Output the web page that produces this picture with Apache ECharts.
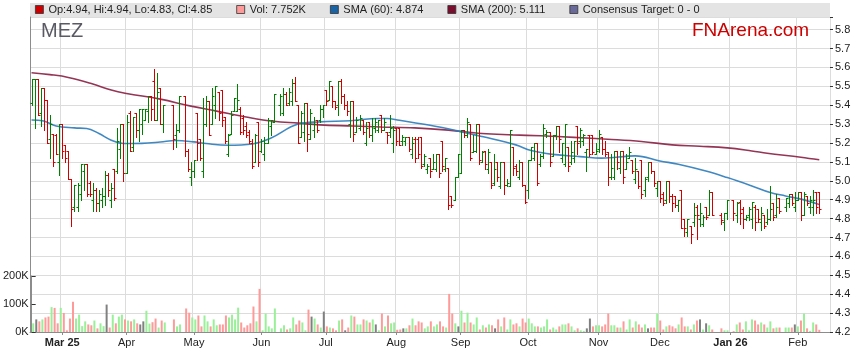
<!DOCTYPE html>
<html><head><meta charset="utf-8">
<script src="https://cdn.jsdelivr.net/npm/echarts@6/dist/echarts.min.js"></script>
<style>html,body{margin:0;padding:0;background:#fff}#c{width:859px;height:363px}</style>
</head><body><div id="c"></div>
<script>
// ---- axis categories: every weekday from 17 Feb 2025 (holidays stay as empty slots) ----
const firstDay = [2025, 1, 17];
const weekdayCount = 261;
const monthNames = ['Jan','Feb','Mar','Apr','May','Jun','Jul','Aug','Sep','Oct','Nov','Dec'];

// ---- daily OHLC, indexed by weekday slot (null = ASX holiday) ----
const opens = [5.41,5.54,5.54,5.36,5.49,5.43,5.22,5.25,5.24,5.10,
 5.30,5.19,5.16,5.01,4.86,4.86,4.93,5.05,5.09,4.99,
 4.90,4.95,4.88,4.90,4.92,5.03,4.90,5.06,5.05,5.17,
 5.30,5.04,5.36,5.18,5.36,5.27,5.30,5.32,5.37,5.45,
 5.53,5.32,5.49,5.30,null,null,5.40,5.24,5.27,null,
 5.45,5.16,5.02,5.05,5.36,5.22,5.05,5.30,5.42,5.30,
 5.40,5.47,5.48,5.34,5.14,5.25,5.37,5.37,5.38,5.33,
 5.29,5.26,5.20,5.10,5.31,5.16,5.14,5.20,5.29,5.31,
 null,5.40,5.36,5.46,5.41,5.42,5.52,5.40,5.23,5.26,
 5.41,5.22,5.27,5.32,5.32,5.38,5.48,5.43,5.50,5.42,
 5.40,5.53,5.45,5.40,5.30,5.42,5.26,5.28,5.32,5.20,
 5.31,5.24,5.28,5.27,5.35,5.27,5.26,5.26,5.20,5.28,
 5.28,5.21,5.21,5.23,5.14,5.22,5.22,5.23,5.09,5.06,
 5.12,5.06,5.06,5.14,5.21,5.06,5.07,4.92,4.90,5.02,
 5.04,5.27,5.24,5.30,5.15,5.16,5.30,5.10,5.16,5.06,
 5.10,4.99,5.10,4.97,5.10,4.98,4.97,5.18,5.08,5.02,
 5.10,4.98,4.95,5.11,5.12,5.20,5.09,5.13,5.25,5.26,
 5.13,5.24,5.29,5.12,5.09,5.18,5.10,5.12,5.29,5.21,
 5.21,5.15,5.24,5.24,5.14,5.17,5.23,5.17,5.15,5.02,
 5.02,5.16,5.07,5.16,5.06,5.12,5.11,5.01,5.05,5.11,
 4.95,5.02,5.10,5.05,4.96,5.00,4.93,4.90,5.00,4.92,
 4.92,4.87,4.95,4.80,4.73,4.76,4.78,4.86,4.80,4.77,
 4.86,4.82,4.94,null,null,4.82,4.78,4.83,null,4.90,
 4.82,4.89,4.85,4.80,4.82,4.80,4.86,4.85,4.78,4.82,
 4.78,4.80,4.88,4.82,4.91,null,4.86,4.88,4.93,4.86,
 4.90,4.94,4.82,4.92,4.86,4.86,4.94,4.94];
const highs = [5.54,5.54,5.54,5.49,5.49,5.43,5.35,5.25,5.25,5.30,
 5.30,5.19,5.16,5.01,4.98,4.99,5.09,5.09,5.09,5.00,
 4.99,4.96,4.95,4.96,5.05,5.04,4.99,5.06,5.28,5.30,
 5.30,5.35,5.37,5.34,5.36,5.38,5.38,5.38,5.45,5.45,
 5.59,5.57,5.49,5.40,null,null,5.40,5.30,5.45,null,
 5.45,5.17,5.10,5.11,5.36,5.22,5.44,5.45,5.42,5.49,
 5.50,5.47,5.48,5.34,5.25,5.37,5.44,5.51,5.39,5.35,
 5.31,5.27,5.22,5.25,5.31,5.22,5.23,5.33,5.32,5.46,
 null,5.46,5.49,5.47,5.49,5.54,5.55,5.40,5.37,5.41,
 5.41,5.38,5.34,5.32,5.40,5.40,5.48,5.53,5.50,5.42,
 5.53,5.54,5.46,5.42,5.42,5.42,5.34,5.35,5.32,5.31,
 5.31,5.33,5.33,5.32,5.35,5.33,5.26,5.35,5.29,5.28,
 5.28,5.24,5.23,5.23,5.23,5.23,5.23,5.23,5.14,5.09,
 5.12,5.14,5.14,5.14,5.21,5.12,5.07,4.92,5.02,5.14,
 5.27,5.27,5.33,5.30,5.24,5.30,5.30,5.16,5.16,5.17,
 5.10,5.14,5.10,5.10,5.10,5.01,5.27,5.18,5.09,5.11,
 5.10,4.98,5.11,5.18,5.20,5.20,5.14,5.30,5.27,5.26,
 5.24,5.29,5.29,5.20,5.30,5.18,5.21,5.21,5.29,5.28,
 5.25,5.17,5.24,5.24,5.20,5.27,5.23,5.21,5.15,5.14,
 5.16,5.16,5.16,5.16,5.14,5.18,5.11,5.12,5.05,5.11,
 5.02,5.10,5.10,5.05,5.00,5.00,4.94,5.00,5.00,4.93,
 4.92,4.90,4.95,4.80,4.80,4.76,4.88,4.87,4.88,4.82,
 4.86,4.95,4.94,null,null,4.83,4.83,4.90,null,4.90,
 4.89,4.90,4.86,4.82,4.86,4.89,4.87,4.85,4.86,4.82,
 4.85,4.97,4.88,4.93,4.91,null,4.91,4.93,4.93,4.94,
 4.94,4.94,4.94,4.92,4.92,4.95,4.94,4.94];
const lows = [5.40,5.28,5.35,5.29,5.27,5.20,5.12,5.08,5.14,5.03,
 5.12,5.10,5.01,4.76,4.84,4.84,4.90,4.95,4.92,4.92,
 4.84,4.84,4.84,4.86,4.87,4.92,4.86,4.90,5.04,5.12,
 5.00,5.04,5.16,5.16,5.23,5.21,5.25,5.32,5.31,5.32,
 5.32,5.32,5.30,5.26,null,null,5.17,5.18,5.26,null,
 5.13,5.05,4.98,5.02,5.11,5.11,5.02,5.29,5.24,5.30,
 5.33,5.32,5.29,5.20,5.13,5.25,5.37,5.37,5.25,5.25,
 5.23,5.20,5.07,5.10,5.08,5.15,5.11,5.20,5.24,5.31,
 null,5.35,5.35,5.40,5.40,5.40,5.42,5.20,5.23,5.21,
 5.16,5.22,5.23,5.26,5.31,5.34,5.40,5.43,5.39,5.38,
 5.35,5.41,5.38,5.35,5.23,5.21,5.26,5.27,5.25,5.19,
 5.23,5.21,5.26,5.26,5.26,5.27,5.20,5.23,5.15,5.19,
 5.19,5.19,5.19,5.16,5.12,5.10,5.12,5.07,5.08,5.04,
 5.02,5.06,5.05,5.02,5.05,5.05,4.85,4.86,4.90,5.02,
 5.04,5.23,5.23,5.11,5.15,5.15,5.09,5.10,5.06,5.04,
 4.96,4.98,5.00,4.96,4.93,4.97,4.97,5.03,5.03,5.01,
 4.97,4.88,4.91,5.11,5.11,4.98,5.08,5.12,5.23,5.08,
 5.13,5.22,5.15,5.10,5.08,5.05,5.09,5.10,5.14,5.18,
 5.19,5.05,5.13,5.14,5.14,5.15,5.14,5.13,4.98,5.01,
 5.01,5.06,5.04,4.99,5.06,5.12,5.04,4.99,4.96,4.91,
 4.92,5.00,5.04,4.97,4.92,4.89,4.87,4.88,4.89,4.84,
 4.86,4.84,4.75,4.71,4.71,4.67,4.76,4.69,4.76,4.76,
 4.80,4.82,4.82,null,null,4.77,4.74,4.80,null,4.79,
 4.78,4.77,4.75,4.79,4.79,4.75,4.74,4.78,4.74,4.75,
 4.77,4.79,4.79,4.81,4.83,null,4.84,4.86,4.87,4.84,
 4.90,4.79,4.82,4.87,4.83,4.82,4.83,4.83];
const closes = [5.54,5.54,5.35,5.49,5.43,5.20,5.30,5.10,5.14,5.30,
 5.16,5.12,5.01,4.85,4.98,4.98,5.09,5.09,4.93,4.93,
 4.95,4.88,4.93,4.92,5.03,4.95,4.96,4.91,5.21,5.30,
 5.04,5.31,5.16,5.34,5.27,5.38,5.38,5.38,5.45,5.38,
 5.32,5.47,5.30,5.40,null,null,5.22,5.27,5.45,null,
 5.16,5.06,5.05,5.11,5.20,5.12,5.30,5.42,5.24,5.45,
 5.50,5.36,5.32,5.21,5.24,5.35,5.44,5.43,5.26,5.27,
 5.24,5.21,5.08,5.24,5.10,5.21,5.20,5.32,5.32,5.46,
 null,5.45,5.46,5.40,5.47,5.52,5.42,5.20,5.36,5.41,
 5.25,5.36,5.30,5.27,5.38,5.40,5.42,5.53,5.42,5.39,
 5.53,5.45,5.40,5.37,5.42,5.25,5.32,5.33,5.26,5.28,
 5.24,5.29,5.31,5.32,5.27,5.31,5.24,5.28,5.27,5.21,
 5.19,5.23,5.23,5.17,5.20,5.12,5.14,5.08,5.13,5.08,
 5.05,5.10,5.14,5.04,5.08,5.12,4.87,4.87,5.02,5.14,
 5.27,5.24,5.31,5.12,5.16,5.30,5.11,5.15,5.09,5.15,
 4.98,5.06,5.02,5.10,4.98,4.99,5.27,5.07,5.05,5.10,
 4.98,4.89,5.11,5.18,5.20,4.99,5.13,5.28,5.26,5.10,
 5.24,5.29,5.22,5.20,5.30,5.08,5.15,5.21,5.20,5.27,
 5.24,5.17,5.14,5.15,5.16,5.25,5.17,5.14,5.02,5.07,
 5.16,5.10,5.16,5.02,5.10,5.15,5.05,5.06,4.97,4.93,
 5.01,5.10,5.05,4.99,5.00,4.91,4.88,5.00,4.92,4.88,
 4.87,4.90,4.75,4.75,4.80,4.72,4.82,4.82,4.83,4.81,
 4.81,4.94,4.82,null,null,4.79,4.83,4.90,null,4.83,
 4.88,4.83,4.80,4.81,4.85,4.89,4.78,4.80,4.83,4.76,
 4.80,4.85,4.81,4.86,4.84,null,4.91,4.93,4.88,4.90,
 4.94,4.82,4.93,4.88,4.90,4.90,4.86,4.85];
// volume in thousands of shares
const volumesK = [31,45,38,45,52,55,89,86,31,86,
 68,6,48,108,48,62,21,38,27,24,
 41,13,31,21,98,16,62,31,55,62,
 45,41,38,45,31,27,38,76,30,35,
 48,16,41,34,null,null,45,20,27,null,
 84,69,52,45,59,20,59,38,20,45,
 24,27,27,59,52,62,45,87,34,16,
 24,31,91,38,154,6,66,20,13,84,
 null,13,24,9,13,52,27,41,34,6,
 80,55,48,27,16,73,20,16,13,6,
 41,45,6,16,59,55,27,27,45,41,
 34,45,27,6,66,20,59,31,34,8,
 9,13,13,24,48,24,38,34,13,20,
 38,20,27,38,20,16,136,66,31,20,
 76,34,69,34,27,52,9,24,16,27,
 24,13,45,20,52,9,45,27,31,20,
 48,34,48,31,20,20,16,20,45,9,
 16,9,20,27,27,31,20,6,13,6,
 4,13,48,20,24,24,20,27,66,24,
 24,16,16,38,9,45,16,38,27,16,
 27,13,16,16,66,41,9,20,24,20,
 13,27,52,20,20,9,27,41,45,9,
 31,24,9,null,null,13,6,6,null,3,
 27,34,9,38,6,45,41,27,34,27,
 16,38,13,16,16,null,16,16,16,27,
 20,41,66,13,4,34,27,7.752];
// slots whose volume bar is drawn grey (unchanged day)
const flatVolumeSlots = [1,24,35,36,91,95,102,112,121,139,151,181,182,201,218,220,249];

// moving averages at sample slots
const sma60Slots = [0,4,8,14,18,22,26,30,36,42,47,53,57,64,72,78,87,94,104,113,116,120,130,139,147,158,163,170,179,186,197,205,211,220,227,235,241,246,252,257];
const sma60Values = [5.322,5.316,5.29,5.28,5.277,5.25,5.215,5.197,5.198,5.205,5.213,5.206,5.197,5.188,5.195,5.225,5.30,5.312,5.318,5.33,5.33,5.32,5.294,5.264,5.234,5.19,5.16,5.14,5.128,5.12,5.132,5.105,5.088,5.052,5.017,4.973,4.938,4.92,4.899,4.874];
const sma200Slots = [0,6,12,20,26,31,42,52,60,71,79,87,94,105,114,125,136,147,157,166,177,188,199,209,218,227,235,240,251,257];
const sma200Values = [5.572,5.562,5.547,5.512,5.48,5.462,5.432,5.395,5.37,5.335,5.315,5.305,5.296,5.29,5.285,5.28,5.268,5.25,5.243,5.238,5.23,5.22,5.208,5.19,5.183,5.174,5.158,5.146,5.125,5.111];

const priceTicks = {min: 4.2, max: 5.8, step: 0.1};
const volumeTicks = {max: 200000, step: 100000};

// ---------------------------------------------------------------
const FONT = '"Liberation Sans", Arial, Helvetica, sans-serif';
const UP = '#008000', DOWN = '#d00000';
const VOL_UP = '#99f099', VOL_DOWN = '#ff9a9a', VOL_FLAT = '#808080';
const GRID = '#dcdcdc', AXIS = '#8c8c8c', TXT = '#222';

const categories = [];
(function () {
  const d = new Date(Date.UTC(firstDay[0], firstDay[1], firstDay[2]));
  while (categories.length < weekdayCount) {
    const w = d.getUTCDay();
    if (w > 0 && w < 6) categories.push(d.toISOString().slice(0, 10));
    d.setUTCDate(d.getUTCDate() + 1);
  }
})();
const isMonthStart = (i) => i > 0 && categories[i].slice(5, 7) !== categories[i - 1].slice(5, 7);
const firstLabel = categories.findIndex((c, i) => isMonthStart(i));

const last = closes.length - 1;
const ohlcName = 'Op:' + opens[last].toFixed(2) + ', Hi:' + highs[last].toFixed(2) + ', Lo:' + lows[last].toFixed(2) + ', Cl:' + closes[last].toFixed(2);
const volName = 'Vol: ' + volumesK[last] + 'K';
const sma60Name = 'SMA (60): ' + sma60Values[sma60Values.length - 1].toFixed(3);
const sma200Name = 'SMA (200): ' + sma200Values[sma200Values.length - 1].toFixed(3);
const targetName = 'Consensus Target: 0 - 0';

const ohlcData = [];
opens.forEach((o, i) => { if (o != null) ohlcData.push([i, o, highs[i], lows[i], closes[i]]); });
const volData = categories.map((c, i) => {
  const v = volumesK[i];
  if (v == null) return null;
  const col = flatVolumeSlots.includes(i) ? VOL_FLAT : (closes[i] >= opens[i] ? VOL_UP : VOL_DOWN);
  return { value: v * 1000, itemStyle: { color: col } };
});

const chart = echarts.init(document.getElementById('c'), null, { renderer: 'canvas' });
chart.setOption({
  animation: false,
  backgroundColor: '#fff',
  textStyle: { fontFamily: FONT },
  title: [
    { text: 'MEZ', left: 41, top: 21, padding: 0, textStyle: { fontSize: 20, fontWeight: 'normal', color: '#5a5a64', fontFamily: FONT } },
    { text: 'FNArena.com', left: 692, top: 21, padding: 0, textStyle: { fontSize: 19, fontWeight: 'normal', color: '#cc0000', fontFamily: FONT } }
  ],
  graphic: [{ type: 'rect', left: 30, top: 3, z: 0, shape: { width: 800, height: 14 }, style: { fill: '#e4e4e4' } }],
  legend: {
    left: 35, top: 4, padding: 0, itemWidth: 8, itemHeight: 8, itemGap: 24, icon: 'rect',
    selectedMode: false,
    textStyle: { fontSize: 11, color: TXT, fontFamily: FONT },
    data: [
      { name: ohlcName, itemStyle: { color: '#cc0000', borderColor: '#333', borderWidth: 0.8 } },
      { name: volName, itemStyle: { color: '#ff9a9a', borderColor: '#333', borderWidth: 0.8 } },
      { name: sma60Name, itemStyle: { color: '#1a64a6', borderColor: '#333', borderWidth: 0.8 } },
      { name: sma200Name, itemStyle: { color: '#7a0c2e', borderColor: '#333', borderWidth: 0.8 } },
      { name: targetName, itemStyle: { color: '#6a6a9a', borderColor: '#333', borderWidth: 0.8 } }
    ]
  },
  grid: [
    { left: 30, right: 29, top: 17, bottom: 31 },
    { left: 30, right: 29, top: 276, bottom: 31 }
  ],
  xAxis: [
    {
      type: 'category', gridIndex: 0, data: categories, boundaryGap: true,
      axisLine: { lineStyle: { color: AXIS } },
      axisTick: { show: true, alignWithLabel: true, interval: (i) => isMonthStart(i), length: 3, lineStyle: { color: AXIS } },
      axisLabel: {
        interval: (i) => isMonthStart(i), margin: 5, fontSize: 11, color: TXT, fontFamily: FONT,
        formatter: (val, i) => {
          const m = +val.slice(5, 7) - 1;
          if (i === firstLabel || m === 0) return '{b|' + monthNames[m] + ' ' + val.slice(2, 4) + '}';
          return monthNames[m];
        },
        rich: { b: { fontWeight: 'bold', fontSize: 11, color: TXT, fontFamily: FONT } }
      },
      splitLine: { show: true, interval: (i) => isMonthStart(i), lineStyle: { color: GRID } }
    },
    { type: 'category', gridIndex: 1, data: categories, boundaryGap: true, show: false }
  ],
  yAxis: [
    {
      type: 'value', gridIndex: 0, position: 'right', min: priceTicks.min, max: priceTicks.min + 315 / 189, interval: priceTicks.step,
      axisLine: { show: false },
      axisTick: { show: true, length: 3, lineStyle: { color: '#333' } },
      axisLabel: { margin: 5, fontSize: 11, color: TXT, fontFamily: FONT, formatter: (v) => (v > priceTicks.max + 0.01 ? '' : v.toFixed(1)) },
      splitLine: { lineStyle: { color: GRID } }
    },
    {
      type: 'value', gridIndex: 1, position: 'left', min: 0, max: volumeTicks.max, interval: volumeTicks.step,
      axisLine: { show: true, lineStyle: { color: AXIS } },
      axisTick: { show: true, inside: true, length: 4, lineStyle: { color: '#333' } },
      axisLabel: { margin: 3, fontSize: 11, color: TXT, fontFamily: FONT, formatter: (v) => (v / 1000) + 'K' },
      splitLine: { show: false }
    },
    {
      type: 'value', gridIndex: 0, position: 'left', min: 0, max: 1,
      axisLine: { show: true, lineStyle: { color: AXIS } },
      axisTick: { show: false }, axisLabel: { show: false }, splitLine: { show: false }
    }
  ],
  series: [
    {
      name: volName, type: 'bar', xAxisIndex: 1, yAxisIndex: 1, barWidth: 2, z: 2,
      itemStyle: { color: VOL_DOWN }, data: volData
    },
    {
      name: sma200Name, type: 'line', xAxisIndex: 0, yAxisIndex: 0, smooth: 0.4, showSymbol: false, symbol: 'none', z: 3,
      itemStyle: { color: '#7a0c2e' }, lineStyle: { color: '#8a1f42', width: 1.6, opacity: 0.9 },
      data: sma200Slots.map((s, k) => [s, sma200Values[k]])
    },
    {
      name: sma60Name, type: 'line', xAxisIndex: 0, yAxisIndex: 0, smooth: 0.4, showSymbol: false, symbol: 'none', z: 3,
      itemStyle: { color: '#1a64a6' }, lineStyle: { color: '#2b7bbb', width: 1.6, opacity: 0.9 },
      data: sma60Slots.map((s, k) => [s, sma60Values[k]])
    },
    { name: targetName, type: 'line', xAxisIndex: 0, yAxisIndex: 0, data: [], itemStyle: { color: '#6a6a9a' } },
    {
      name: ohlcName, type: 'custom', xAxisIndex: 0, yAxisIndex: 0, z: 4,
      itemStyle: { color: '#cc0000' },
      encode: { x: 0, y: [1, 2, 3, 4] },
      data: ohlcData,
      renderItem: function (params, api) {
        const i = api.value(0), o = api.value(1), h = api.value(2), l = api.value(3), c = api.value(4);
        const pH = api.coord([i, h]), pL = api.coord([i, l]);
        const yo = Math.round(api.coord([i, o])[1]) + 0.5;
        const yc = Math.round(api.coord([i, c])[1]) + 0.5;
        const half = api.size([1, 0])[0] / 2;
        const x = Math.round(pH[0]) + 0.5;
        const col = c >= o ? UP : DOWN;
        const st = { stroke: col, lineWidth: 1 };
        return {
          type: 'group', children: [
            { type: 'line', shape: { x1: x, y1: Math.round(pH[1]), x2: x, y2: Math.round(pL[1]) + 1 }, style: st },
            { type: 'line', shape: { x1: x - half - 0.5, y1: yo, x2: x, y2: yo }, style: st },
            { type: 'line', shape: { x1: x, y1: yc, x2: x + half + 0.5, y2: yc }, style: st }
          ]
        };
      }
    }
  ]
});
</script></body></html>
